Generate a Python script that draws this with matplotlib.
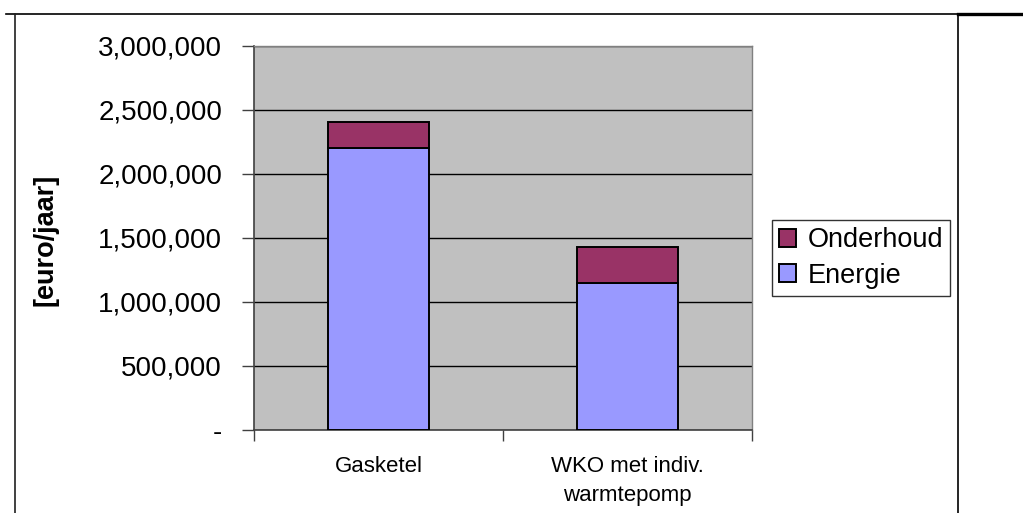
import matplotlib.pyplot as plt
from matplotlib.lines import Line2D
from matplotlib.ticker import FuncFormatter

plt.rcParams['font.family'] = ['Liberation Sans', 'DejaVu Sans']

# kosten per jaar
categories = ["Gasketel", "WKO met indiv.\nwarmtepomp"]
energie = [2200000, 1150000]
onderhoud = [205000, 280000]
yticks = [0, 500000, 1000000, 1500000, 2000000, 2500000, 3000000]

W, H = 1023, 513
fig = plt.figure(figsize=(W / 100, H / 100), dpi=100)

def fx(px):
    return px / W

def fy(py):
    return 1 - py / H

ax = fig.add_axes([fx(254), fy(430), fx(752) - fx(254), fy(46) - fy(430)])
ax.set_facecolor('#C0C0C0')

x = list(range(len(categories)))
ax.bar(x, energie, width=0.405, color='#9999FF', edgecolor='black', linewidth=1.4,
       label='Energie', zorder=3)
ax.bar(x, onderhoud, bottom=energie, width=0.405, color='#993366', edgecolor='black',
       linewidth=1.4, label='Onderhoud', zorder=3)

ax.set_xlim(-0.5, 1.5)
ax.set_ylim(0, 3000000)
ax.set_yticks(yticks)
ax.yaxis.set_major_formatter(FuncFormatter(lambda v, p: '-' if v == 0 else f'{int(v):,}'))
ax.grid(axis='y', color='black', linewidth=1.0, zorder=1)
ax.tick_params(axis='y', labelsize=20, length=9, width=1, color='#404040', pad=14)

ax.set_xticks(x)
ax.set_xticklabels(categories, fontsize=16, linespacing=1.5)
ax.tick_params(axis='x', which='major', length=0, pad=19)
ax.set_xticks([-0.5, 0.5, 1.5], minor=True)
ax.tick_params(axis='x', which='minor', length=8, width=1, color='#404040')

for s in ['top', 'right']:
    ax.spines[s].set_color('#808080')
    ax.spines[s].set_linewidth(1)
for s in ['left', 'bottom']:
    ax.spines[s].set_color('#404040')
    ax.spines[s].set_linewidth(1.2)

fig.text(fx(46), fy(240), '[euro/jaar]', rotation=90, fontsize=19.5, fontweight='bold',
         ha='center', va='center')

handles, labels = ax.get_legend_handles_labels()
leg = fig.legend(handles[::-1], labels[::-1], loc='center left',
                 bbox_to_anchor=(fx(772), fy(258)), fontsize=19.5, frameon=True,
                 fancybox=False, edgecolor='black', handlelength=0.62, handleheight=0.62,
                 handletextpad=0.45, borderpad=0.25, labelspacing=0.35, borderaxespad=0)
leg.get_frame().set_linewidth(1)

# rand rond de grafiek
fig.add_artist(Line2D([fx(6), fx(958)], [fy(14), fy(14)], color='black', linewidth=1.2))
fig.add_artist(Line2D([fx(958), fx(1023)], [fy(14), fy(14)], color='black', linewidth=2.4))
fig.add_artist(Line2D([fx(15), fx(15)], [fy(14), fy(513)], color='#202020', linewidth=1.2))
fig.add_artist(Line2D([fx(958), fx(958)], [fy(14), fy(513)], color='black', linewidth=1.2))

fig.savefig('out.png', dpi=100)
